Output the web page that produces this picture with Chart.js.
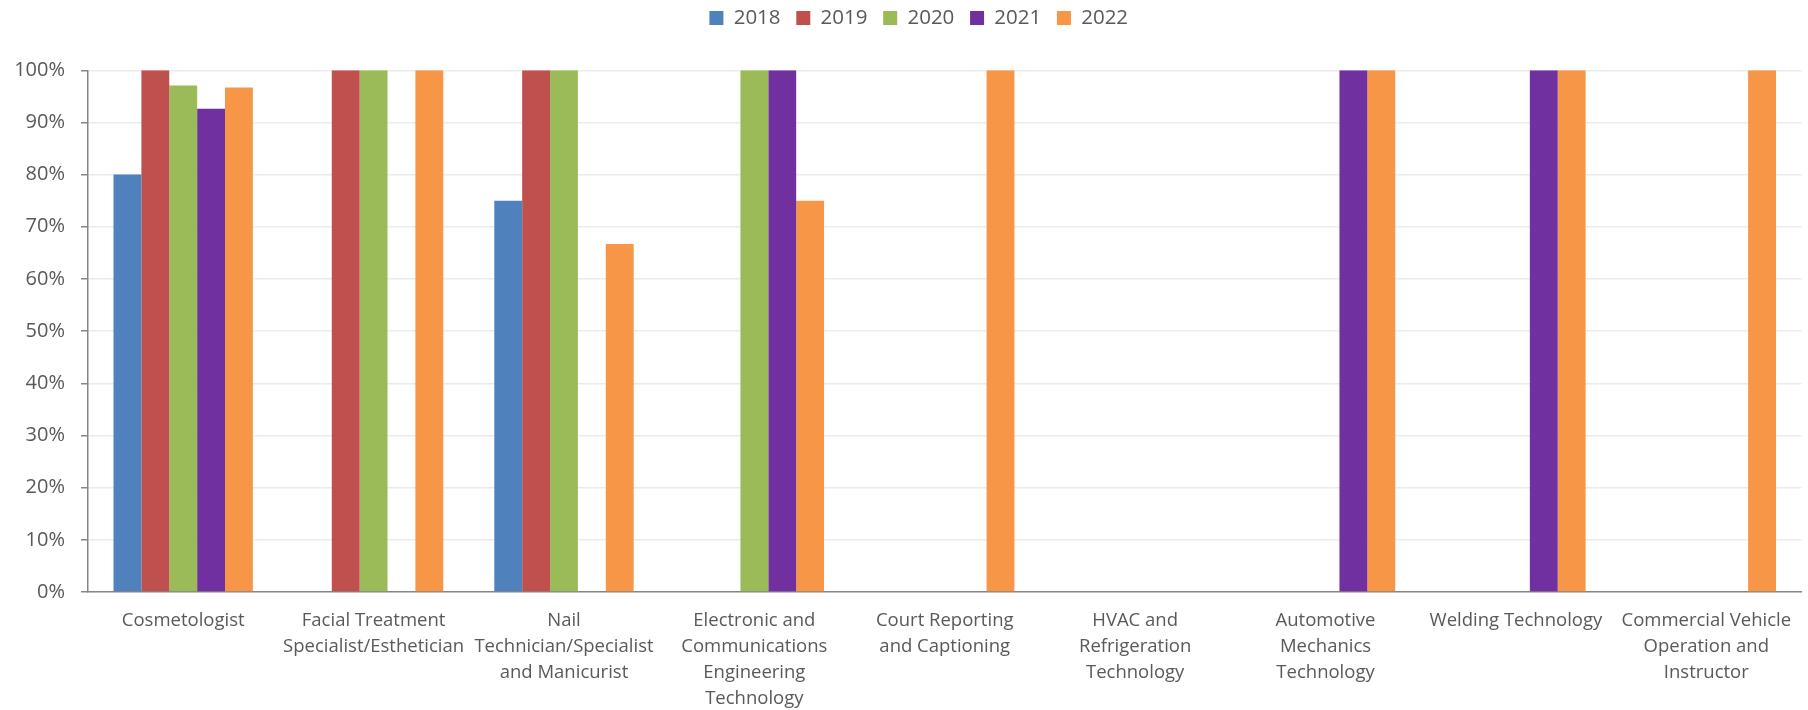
<!DOCTYPE html>
<html>
<head>
<meta charset="utf-8">
<title>Programs by year</title>
<script src="https://cdn.jsdelivr.net/npm/chart.js@4.4.1/dist/chart.umd.min.js"></script>
<style>
    body { margin: 0; background: #ffffff; }
    #chart-box { width: 1808px; height: 710px; }
</style>
</head>
<body>
<div id="chart-box">
    <canvas id="programs-chart" width="1808" height="710"></canvas>
</div>
<script>
// categories (multi-line labels as they are wrapped in the original)
var programs = [
    'Cosmetologist',
    ['Facial Treatment', 'Specialist/Esthetician'],
    ['Nail', 'Technician/Specialist', 'and Manicurist'],
    ['Electronic and', 'Communications', 'Engineering', 'Technology'],
    ['Court Reporting', 'and Captioning'],
    ['HVAC and', 'Refrigeration', 'Technology'],
    ['Automotive', 'Mechanics', 'Technology'],
    'Welding Technology',
    ['Commercial Vehicle', 'Operation and', 'Instructor']
];

var years = ['2018', '2019', '2020', '2021', '2022'];

// percentages, null = no bar
var values2018 = [80, null, 75, null, null, null, null, null, null];
var values2019 = [100, 100, 100, null, null, null, null, null, null];
var values2020 = [97.1, 100, 100, 100, null, null, null, null, null];
var values2021 = [92.6, null, null, 100, null, null, 100, 100, null];
var values2022 = [96.7, 100, 66.7, 75, 100, null, 100, 100, 100];

var yTickLabels = ['0%', '10%', '20%', '30%', '40%', '50%', '60%', '70%', '80%', '90%', '100%'];

var colors = ['#4F81BD', '#C0504D', '#9BBB59', '#7030A0', '#F79646'];

var programs_chart;

window.onload = function () {
    draw_chart();
}

function draw_chart() {
    var ctx = document.getElementById('programs-chart').getContext('2d');
    var series = [values2018, values2019, values2020, values2021, values2022];
    var textColor = '#595959';
    var axisColor = '#868686';

    Chart.defaults.font.family = "'Open Sans', sans-serif";

    var datasets = years.map(function (year, i) {
        return {
            label: year,
            data: series[i],
            backgroundColor: colors[i],
            borderWidth: 0,
            categoryPercentage: 0.732,
            barPercentage: 1
        };
    });

    // extra room under the legend and a small nudge to the right, like the original
    var legendGap = {
        id: 'legendGap',
        beforeInit: function (chart) {
            var fit = chart.legend.fit;
            chart.legend.fit = function () {
                fit.call(this);
                this.height += 32;
            };
        },
        afterLayout: function (chart) {
            chart.legend.left += 13;
            chart.legend.right += 13;
        }
    };

    programs_chart = new Chart(ctx, {
        type: 'bar',
        data: {
            labels: programs,
            datasets: datasets
        },
        plugins: [legendGap],
        options: {
            responsive: false,
            animation: false,
            layout: {
                padding: { top: -8, left: 10, right: 6.5, bottom: 0 }
            },
            plugins: {
                legend: {
                    position: 'top',
                    labels: {
                        boxWidth: 14,
                        boxHeight: 14,
                        padding: 15.75,
                        color: textColor,
                        font: { size: 20.5 }
                    }
                },
                tooltip: { enabled: false }
            },
            scales: {
                x: {
                    grid: { display: false, drawTicks: false },
                    border: { color: axisColor, width: 1.5 },
                    ticks: {
                        color: textColor,
                        padding: 16,
                        maxRotation: 0,
                        autoSkip: false,
                        font: { size: 18.5, lineHeight: '26px' }
                    },
                    afterFit: function (scale) {
                        scale.height = 118;
                    }
                },
                y: {
                    min: 0,
                    max: 100,
                    grid: {
                        color: '#EBEBEB',
                        lineWidth: 1.5,
                        tickColor: axisColor,
                        tickLength: 7,
                        tickWidth: 1.5
                    },
                    border: { color: axisColor, width: 1.5 },
                    ticks: {
                        stepSize: 10,
                        color: textColor,
                        padding: 16,
                        font: { size: 20 },
                        callback: function (v, i) { return yTickLabels[i]; }
                    },
                    afterFit: function (scale) {
                        scale.width = 78;
                    }
                }
            }
        }
    });
}
</script>
</body>
</html>
